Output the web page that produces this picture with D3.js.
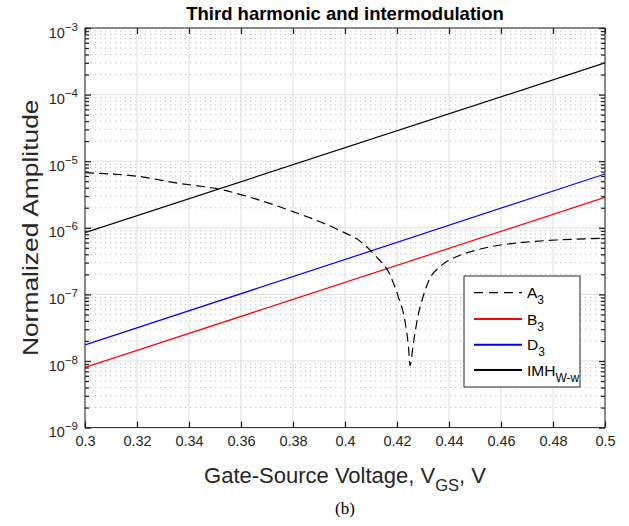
<!DOCTYPE html>
<html><head><meta charset="utf-8">
<script src="https://cdn.jsdelivr.net/npm/d3@7"></script>
<style>body{margin:0;background:#fff}svg{display:block}</style>
</head><body><svg id="c" width="629" height="526"></svg>
<script>
// ---- data ----
const xTickValues = [0.3,0.32,0.34,0.36,0.38,0.4,0.42,0.44,0.46,0.48,0.5];
const xTickLabels = ["0.3","0.32","0.34","0.36","0.38","0.4","0.42","0.44","0.46","0.48","0.5"];
const yTickExponents = [-9,-8,-7,-6,-5,-4,-3];

const a3Vgs = [0.300,0.305,0.320,0.336,0.352,0.367,0.380,0.397,0.406,0.412,0.417,0.4205,0.423,0.4244,0.425,0.4263,0.428,0.430,0.4327,0.4365,0.443,0.4494,0.456,0.4686,0.4814,0.500];
const a3Amp = [6.72e-6,6.58e-6,5.95e-6,4.66e-6,3.78e-6,2.61e-6,1.75e-6,9.5e-7,6.2e-7,3.7e-7,2.07e-7,9.2e-8,4.1e-8,1.64e-8,8.5e-9,1.85e-8,4.6e-8,9.2e-8,1.75e-7,2.6e-7,3.7e-7,4.5e-7,5.2e-7,6.05e-7,6.56e-7,6.95e-7];
const b3Vgs = [0.3,0.5];
const b3Amp = [8.0e-9,2.87e-6];
const d3Vgs = [0.3,0.5];
const d3Amp = [1.74e-8,6.43e-6];
const imhVgs = [0.3,0.5];
const imhAmp = [8.45e-7,3.0e-4];

const legendNames = ["A","B","D","IMH"];
const legendSubs = ["3","3","3","W-w"];

// ---- layout ----
const svg = d3.select("#c");
svg.append("rect").attr("width",629).attr("height",526).attr("fill","#fff");
const L=85, R=605, T=28, B=427.6;
const x = d3.scaleLinear().domain([0.3,0.5]).range([L,R]);
const y = d3.scaleLog().domain([1e-9,1e-3]).range([B,T]);
const axisCol = "#262626";
const font = "'Liberation Sans', Arial, Helvetica, sans-serif";

const minorVals = [];
yTickExponents.slice(0,-1).forEach(e=>{ for(let k=2;k<=9;k++) minorVals.push(k*Math.pow(10,e)); });
const majorVals = yTickExponents.map(e=>Math.pow(10,e));

// grid
const g = svg.append("g");
g.selectAll(".mg").data(minorVals).join("line")
  .attr("x1",L).attr("x2",R).attr("y1",d=>y(d)).attr("y2",d=>y(d))
  .attr("stroke","#bfbfbf").attr("stroke-width",1).attr("stroke-dasharray","1.3,3.7");
g.selectAll(".gy").data(majorVals).join("line")
  .attr("x1",L).attr("x2",R).attr("y1",d=>y(d)).attr("y2",d=>y(d))
  .attr("stroke","#dedede").attr("stroke-width",1);
g.selectAll(".gx").data(xTickValues).join("line")
  .attr("x1",d=>x(d)).attr("x2",d=>x(d)).attr("y1",T).attr("y2",B)
  .attr("stroke","#dedede").attr("stroke-width",1);

// clip
svg.append("clipPath").attr("id","clip").append("rect").attr("x",L).attr("y",T).attr("width",R-L).attr("height",B-T);
const lines = svg.append("g").attr("clip-path","url(#clip)");
function drawSeries(xs, ys, color, dash, curve){
  const pts = xs.map((v,i)=>[v,ys[i]]);
  lines.append("path").datum(pts)
    .attr("d", d3.line().x(d=>x(d[0])).y(d=>y(d[1])).curve(curve||d3.curveLinear))
    .attr("fill","none").attr("stroke",color).attr("stroke-width",1.2)
    .attr("stroke-dasharray",dash||null);
}
drawSeries(b3Vgs,b3Amp,"#ff0000");
drawSeries(d3Vgs,d3Amp,"#0000ff");
drawSeries(imhVgs,imhAmp,"#000000");
drawSeries(a3Vgs,a3Amp,"#000000","9,5",d3.curveMonotoneX);

// axes box
svg.append("rect").attr("x",L).attr("y",T).attr("width",R-L).attr("height",B-T)
  .attr("fill","none").attr("stroke",axisCol).attr("stroke-width",1);

function styleAxis(sel){
  sel.select(".domain").remove();
  sel.selectAll(".tick line").attr("stroke",axisCol).attr("stroke-width",1.3);
}
// x axes
const xb = svg.append("g").attr("transform",`translate(0,${B})`)
  .call(d3.axisBottom(x).tickValues(xTickValues).tickSize(-6).tickPadding(8)
        .tickFormat((d,i)=>xTickLabels[i]));
styleAxis(xb);
xb.selectAll(".tick text").attr("font-family",font).attr("font-size","14.5px").attr("fill",axisCol);
const xt = svg.append("g").attr("transform",`translate(0,${T})`)
  .call(d3.axisTop(x).tickValues(xTickValues).tickSize(-6).tickFormat(""));
styleAxis(xt);

// y axes major
const yl = svg.append("g").attr("transform",`translate(${L},0)`)
  .call(d3.axisLeft(y).tickValues(majorVals).tickSize(-6).tickFormat(""));
styleAxis(yl);
const yr = svg.append("g").attr("transform",`translate(${R},0)`)
  .call(d3.axisRight(y).tickValues(majorVals).tickSize(-6).tickFormat(""));
styleAxis(yr);
const yl2 = svg.append("g").attr("transform",`translate(${L},0)`)
  .call(d3.axisLeft(y).tickValues(minorVals).tickSize(-4).tickFormat(""));
styleAxis(yl2);
const yr2 = svg.append("g").attr("transform",`translate(${R},0)`)
  .call(d3.axisRight(y).tickValues(minorVals).tickSize(-4).tickFormat(""));
styleAxis(yr2);

// y tick labels 10^e
yTickExponents.forEach(e=>{
  const t = svg.append("text").attr("font-family",font).attr("fill",axisCol)
    .attr("text-anchor","end").attr("x",78).attr("y",y(Math.pow(10,e))+9.5);
  t.append("tspan").attr("font-size","14.5px").text("10");
  t.append("tspan").attr("font-size","11.5px").attr("dy",-7).text(String(e).replace("-","\u2212"));
});

// title
svg.append("text").attr("x",345).attr("y",20).attr("text-anchor","middle")
  .attr("font-family",font).attr("font-weight","bold").attr("font-size","18.5px").attr("fill","#000")
  .text("Third harmonic and intermodulation");

// y label
svg.append("text").attr("transform",`translate(37.5,${(T+B)/2}) scale(1,1.2) rotate(-90)`)
  .attr("text-anchor","middle").attr("font-family",font).attr("font-size","22px").attr("fill",axisCol)
  .text("Normalized Amplitude");

// x label
const xl = svg.append("text").attr("x",345).attr("y",483).attr("text-anchor","middle")
  .attr("font-family",font).attr("font-size","22px").attr("fill",axisCol);
xl.append("tspan").text("Gate-Source Voltage, V");
xl.append("tspan").attr("font-size","16.5px").attr("dy",8).text("GS");
xl.append("tspan").attr("dy",-8).text(", V");

// caption
svg.append("text").attr("x",345).attr("y",514).attr("text-anchor","middle")
  .attr("font-family","'Liberation Serif','Times New Roman',serif").attr("font-size","17px").attr("fill","#000")
  .text("(b)");

// legend
const lg = svg.append("g");
lg.append("rect").attr("x",464).attr("y",276).attr("width",116).attr("height",111)
  .attr("fill","#fff").attr("stroke",axisCol).attr("stroke-width",1);
const legColors = ["#000000","#ff0000","#0000ff","#000000"];
const legDash = ["9,6",null,null,null];
const legY = [292.7,319,344.7,370];
legendNames.forEach((n,i)=>{
  lg.append("line").attr("x1",474).attr("x2",522).attr("y1",legY[i]).attr("y2",legY[i])
    .attr("stroke",legColors[i]).attr("stroke-width",i===0?1.3:2).attr("stroke-dasharray",legDash[i]);
  const t = lg.append("text").attr("x",527).attr("y",legY[i]+5.5).attr("font-family",font)
    .attr("font-size","15.5px").attr("fill","#000");
  t.append("tspan").text(n);
  t.append("tspan").attr("font-size","12px").attr("dy",6).text(legendSubs[i]);
});
</script></body></html>
